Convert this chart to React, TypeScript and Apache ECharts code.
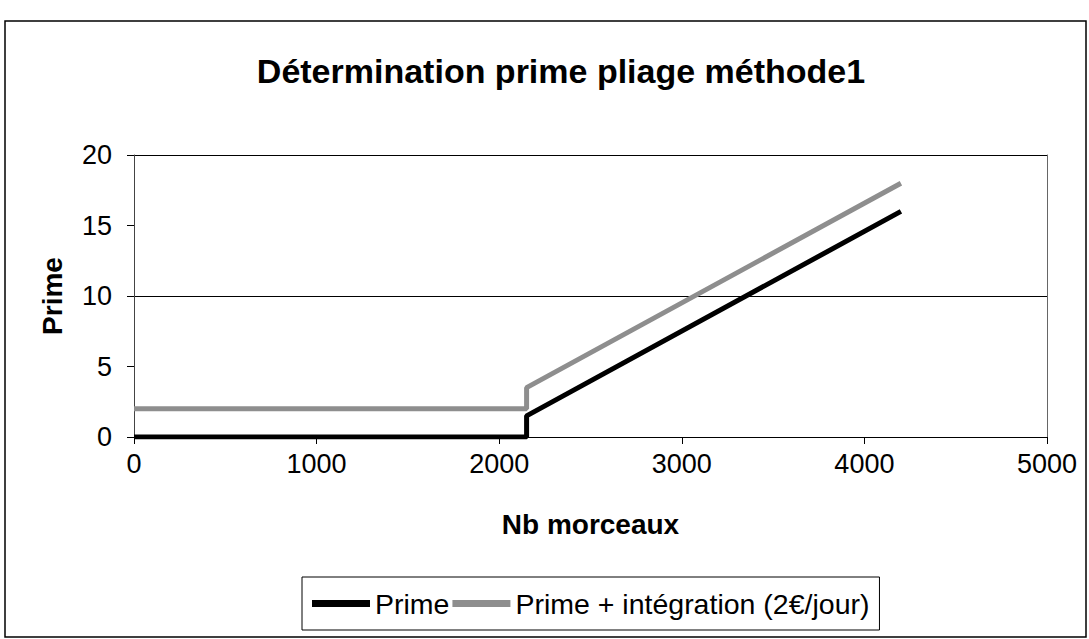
import React, { useEffect, useRef } from "react";
import * as echarts from "echarts";

const xValues = [0, 2150, 2150, 4200];
const primeValues = [0, 0, 1.5, 16];
const primeIntegrationValues = [2, 2, 3.5, 18];
const seriesNames = ["Prime", "Prime + intégration (2€/jour)"];
const titleText = "Détermination prime pliage méthode1";
const xAxisName = "Nb morceaux";
const yAxisName = "Prime";

const FONT = "'Liberation Sans', Arial, sans-serif";

export default function App() {
  const ref = useRef<HTMLDivElement>(null);
  useEffect(() => {
    if (!ref.current) return;
    const chart = echarts.init(ref.current, undefined, { renderer: "svg" });
    const primeData = xValues.map((x, i) => [x, primeValues[i]]);
    const integData = xValues.map((x, i) => [x, primeIntegrationValues[i]]);
    chart.setOption({
      animation: false,
      backgroundColor: "#fff",
      textStyle: { fontFamily: FONT },
      title: {
        text: titleText,
        left: 556,
        top: 49,
        textAlign: "center",
        textStyle: { fontFamily: FONT, fontSize: 34, fontWeight: "bold", color: "#000" },
      },
      grid: { left: 134, right: 42, top: 155, bottom: 202, containLabel: false },
      legend: {
        left: 302,
        top: 577,
        padding: [12, 10, 12, 10],
        borderColor: "#000",
        borderWidth: 1,
        itemGap: 3,
        itemWidth: 58,
        itemHeight: 7,
        icon: "rect",
        textStyle: { fontFamily: FONT, fontSize: 28.5, color: "#000" },
        data: seriesNames,
      },
      graphic: [
        {
          type: "rect",
          shape: { x: 5, y: 21, width: 1081, height: 616 },
          style: { fill: "none", stroke: "#000", lineWidth: 1.5 },
          silent: true,
        },
      ],
      xAxis: {
        type: "value",
        min: 0,
        max: 5000,
        interval: 1000,
        name: xAxisName,
        nameLocation: "middle",
        nameGap: 73,
        nameTextStyle: { fontFamily: FONT, fontSize: 28, fontWeight: "bold", color: "#000" },
        axisLine: { show: true, lineStyle: { color: "#000", width: 1 } },
        axisTick: { show: true, inside: false, length: 7, lineStyle: { color: "#000" } },
        axisLabel: {
          margin: 13,
          fontFamily: FONT,
          fontSize: 27,
          color: "#000",
          formatter: (v: number) => String(v),
        },
        splitLine: { show: false },
      },
      yAxis: [
        {
          type: "value",
          min: 0,
          max: 20,
          interval: 5,
          name: yAxisName,
          nameLocation: "middle",
          nameGap: 68,
          nameTextStyle: { fontFamily: FONT, fontSize: 28, fontWeight: "bold", color: "#000" },
          axisLine: { show: true, lineStyle: { color: "#444", width: 1 } },
          axisTick: { show: true, inside: false, length: 7, lineStyle: { color: "#000" } },
          axisLabel: { margin: 22, fontFamily: FONT, fontSize: 27, color: "#000" },
          splitLine: { show: false },
        },
        {
          type: "value",
          min: 0,
          max: 20,
          interval: 10,
          position: "right",
          axisLine: { show: true, lineStyle: { color: "#666", width: 1 } },
          axisTick: { show: false },
          axisLabel: { show: false },
          splitLine: { show: true, lineStyle: { color: "#000", width: 1 } },
        },
      ],
      series: [
        {
          name: seriesNames[0],
          type: "line",
          data: primeData,
          showSymbol: false,
          symbol: "none",
          z: 3,
          lineStyle: { color: "#000", width: 5 },
          itemStyle: { color: "#000" },
        },
        {
          name: seriesNames[1],
          type: "line",
          data: integData,
          showSymbol: false,
          symbol: "none",
          z: 2,
          lineStyle: { color: "#8e8e8e", width: 5 },
          itemStyle: { color: "#8e8e8e" },
        },
      ],
    });
    return () => chart.dispose();
  }, []);
  return (
    <div
      ref={ref}
      style={{ position: "absolute", left: 0, top: 0, width: 1089, height: 639 }}
    />
  );
}
